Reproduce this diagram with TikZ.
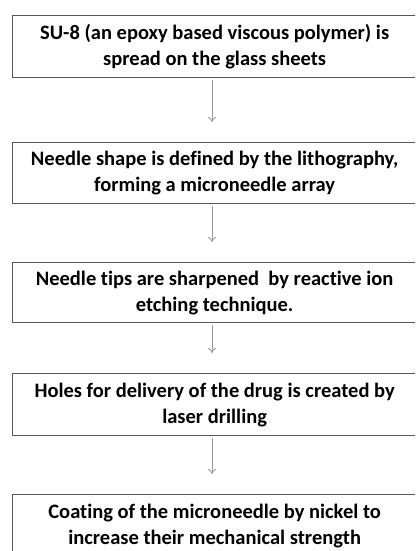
\documentclass[tikz,border=0pt]{standalone}
\usepackage{fontspec}
\setmainfont[Ligatures=NoCommon]{Carlito}
\usetikzlibrary{arrows.meta}
\begin{document}
\begin{tikzpicture}[x=1pt,y=1pt,
  stepbox/.style={draw=black!65, line width=1.3pt, fill=white, minimum width=404pt,
    minimum height=62pt, inner sep=0pt, align=center,
    font=\fontsize{20.5}{26}\selectfont\bfseries, anchor=north west},
  flow/.style={draw=black!40, line width=0.9pt, -{To[length=5pt,width=8pt]}, shorten >=20pt, shorten <=2pt}]
\useasboundingbox (0,0) rectangle (415,551);
\clip (0,0) rectangle (415,551);
\node[stepbox] (b1) at (12,551-15) {SU-8 (an epoxy based viscous polymer) is\\spread on the glass sheets};
\node[stepbox, minimum height=61pt] (b2) at (12,551-142) {Needle shape is defined by the lithography,\\forming a microneedle array};
\node[stepbox, minimum height=60pt] (b3) at (12,551-262) {Needle tips are sharpened\ \ by reactive ion\\etching technique.};
\node[stepbox] (b4) at (12,551-373) {Holes for delivery of the drug is created by\\laser drilling};
\node[stepbox] (b5) at (12,551-494) {Coating of the microneedle by nickel to\\increase their mechanical strength};
\draw[flow] (b1.south -| 212,0) -- (b2.north -| 212,0);
\draw[flow] (b2.south -| 212,0) -- (b3.north -| 212,0);
\draw[flow] (b3.south -| 212,0) -- (b4.north -| 212,0);
\draw[flow] (b4.south -| 212,0) -- (b5.north -| 212,0);
\end{tikzpicture}
\end{document}
